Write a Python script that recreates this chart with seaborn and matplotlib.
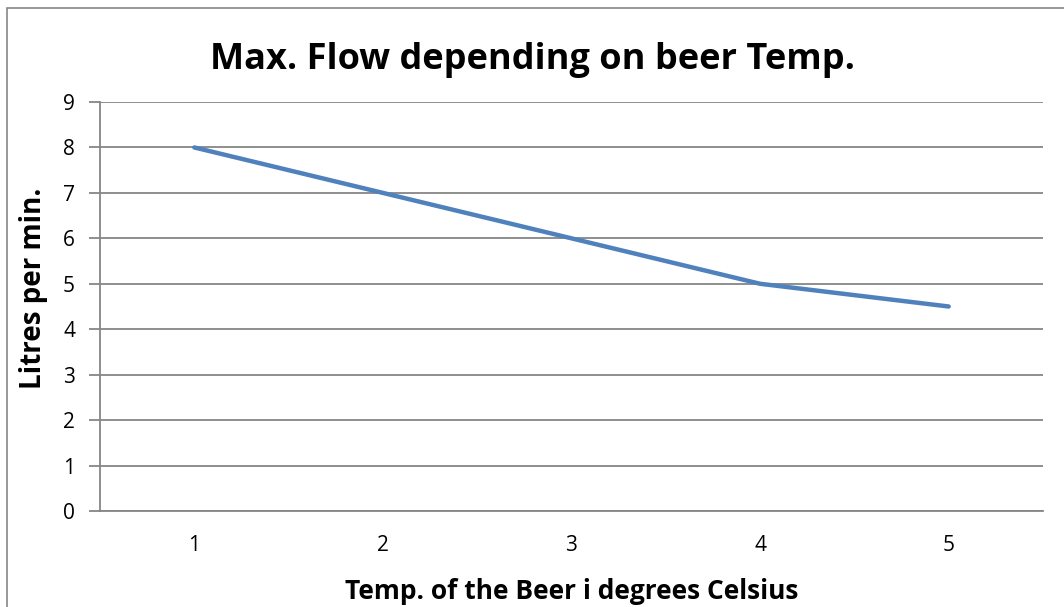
import matplotlib
matplotlib.use("Agg")
import matplotlib.pyplot as plt
import seaborn as sns
import pandas as pd
from matplotlib.patches import Rectangle

categories = ["1", "2", "3", "4", "5"]
flow = [8, 7, 6, 5, 4.5]
yticks = [0, 1, 2, 3, 4, 5, 6, 7, 8, 9]

sns.set_style("white")
plt.rcParams['font.family'] = ['Open Sans', 'DejaVu Sans']
plt.rcParams['text.color'] = 'black'
plt.rcParams['xtick.labelcolor'] = 'black'
plt.rcParams['ytick.labelcolor'] = 'black'
plt.rcParams['axes.labelcolor'] = 'black'

W, H = 1064, 607
fig = plt.figure(figsize=(W / 100, H / 100), dpi=100)
ax = fig.add_axes([100 / W, 1 - 511 / H, (1043 - 100) / W, (511 - 102) / H])

df = pd.DataFrame({"temp": categories, "flow": flow})
df["pos"] = range(len(categories))
sns.lineplot(data=df, x="pos", y="flow", ax=ax, color="#4F81BD", linewidth=3.2)

ax.set_xlim(-0.5, len(categories) - 0.5)
ax.set_ylim(0, 9)
ax.set_yticks(yticks)
ax.set_yticklabels([str(t) for t in yticks], fontsize=15, color="black")
ax.set_xticks(df["pos"])
ax.set_xticklabels(categories, fontsize=15, color="black")
ax.tick_params(axis="x", length=0, pad=17)
ax.tick_params(axis="y", length=8, width=1.3, color="#868686", pad=10, direction="out", left=True)
ax.grid(axis="y", color="#868686", linewidth=1.3)
ax.set_axisbelow(True)
for s in ["top", "right"]:
    ax.spines[s].set_visible(False)
for s in ["left", "bottom"]:
    ax.spines[s].set_color("#868686")
    ax.spines[s].set_linewidth(1.3)

ax.set_xlabel("Temp. of the Beer i degrees Celsius", fontsize=19, fontweight="bold",
              labelpad=16, color="black")
ax.set_ylabel("Litres per min.", fontsize=20, fontweight="bold", color="black")
ax.yaxis.set_label_coords(-0.055, 0.545)
fig.text(0.5, 1 - 60 / H, "Max. Flow depending on beer Temp.", ha="center", va="center",
         fontsize=26, fontweight="bold", color="black")

fig.add_artist(Rectangle((7 / W, -0.1), 1.2, 1 - 8 / H + 0.1, transform=fig.transFigure,
                         fill=False, edgecolor="#868686", linewidth=1.2))

fig.savefig("out.png", dpi=100)
